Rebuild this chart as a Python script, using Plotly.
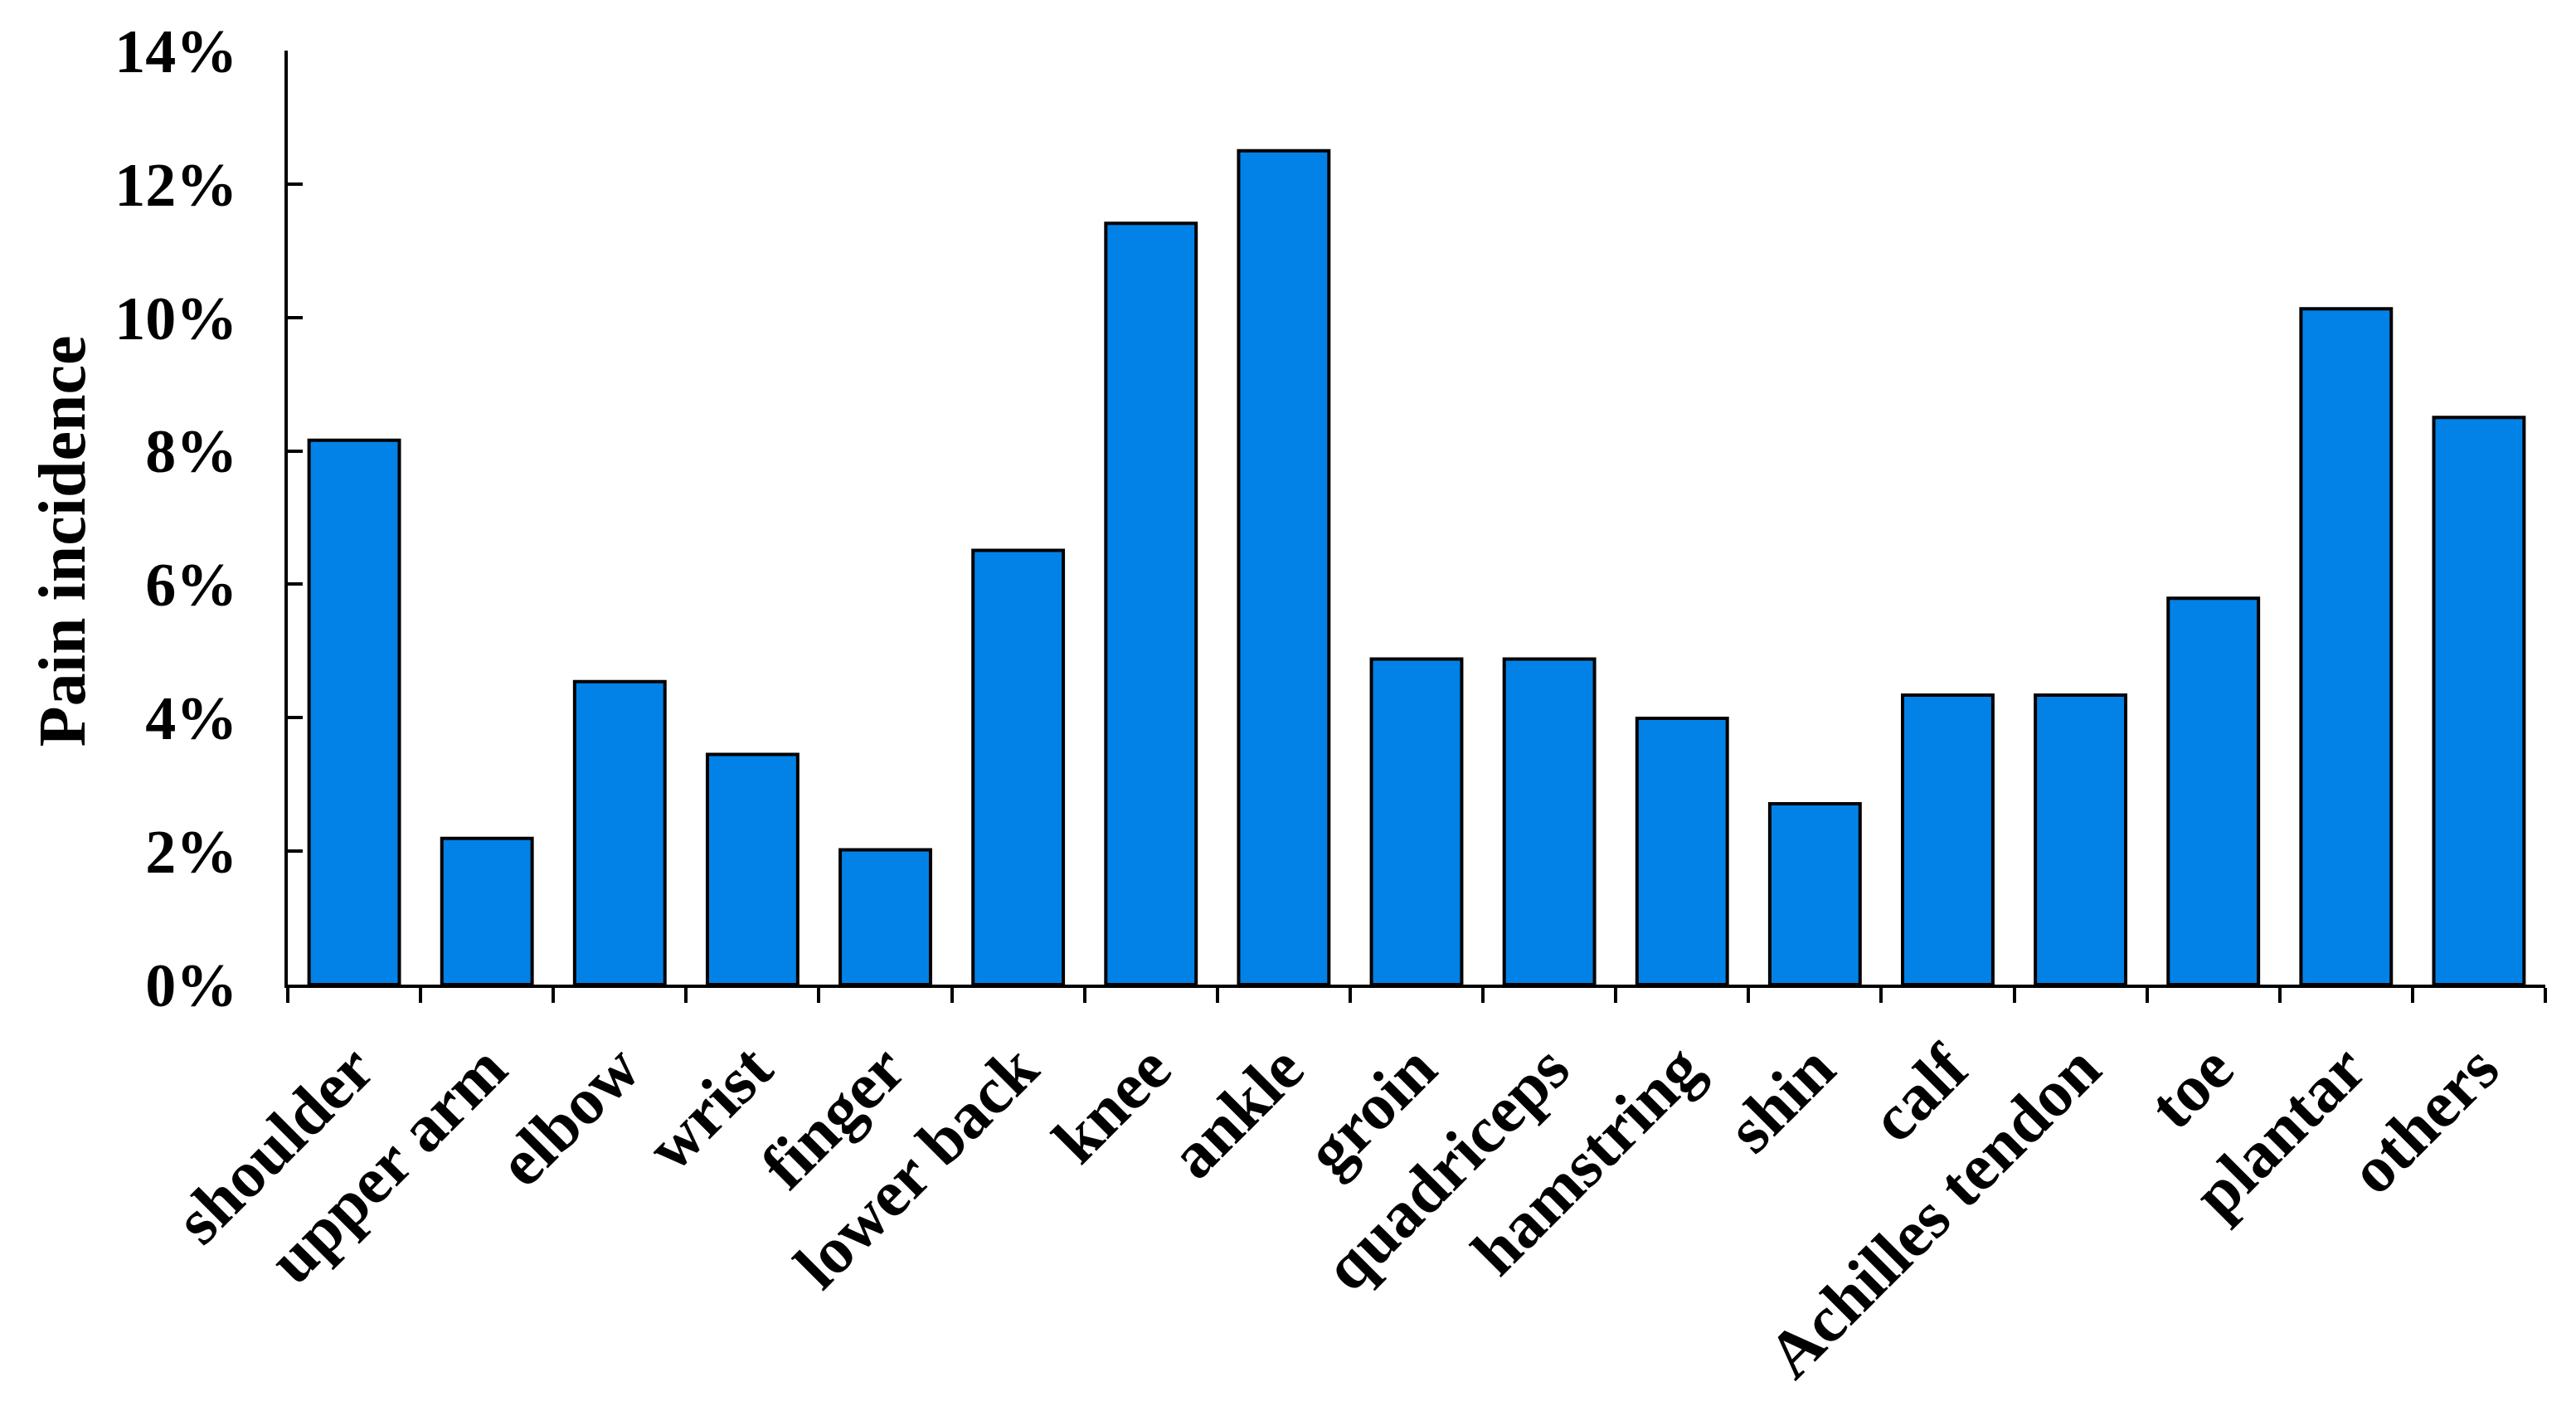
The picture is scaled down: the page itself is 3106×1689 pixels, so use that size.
import plotly.graph_objects as go

categories = ["shoulder", "upper arm", "elbow", "wrist", "finger", "lower back", "knee", "ankle",
              "groin", "quadriceps", "hamstring", "shin", "calf", "Achilles tendon", "toe",
              "plantar", "others"]
pain_incidence = [8.16, 2.19, 4.54, 3.45, 2.02, 6.51, 11.41, 12.50, 4.88, 4.88, 3.99, 2.71,
                  4.34, 4.34, 5.79, 10.13, 8.50]
y_ticks = [0, 2, 4, 6, 8, 10, 12, 14]
y_tick_labels = ["0%", "2%", "4%", "6%", "8%", "10%", "12%", "14%"]

fig = go.Figure(go.Bar(
    x=categories,
    y=pain_incidence,
    marker=dict(color="#0282E6", line=dict(color="black", width=4)),
    width=0.68,
))

serif = "Liberation Serif, Times New Roman, serif"

fig.update_layout(
    width=3098, height=1681,
    margin=dict(l=339, r=37, t=53, b=502, autoexpand=False),
    plot_bgcolor="white", paper_bgcolor="white",
    showlegend=False,
    font=dict(family=serif, color="black"),
    annotations=[dict(
        text="Pain incidence", xref="paper", yref="paper", x=0, y=0.475,
        xanchor="center", yanchor="middle", textangle=-90, xshift=-272,
        showarrow=False,
        font=dict(family=serif, size=80, color="black", weight="bold"),
    )],
)
fig.update_xaxes(
    type="category",
    tickson="boundaries",
    ticks="outside", ticklen=18, tickwidth=4, tickcolor="black",
    showline=True, linecolor="black", linewidth=4,
    tickangle=-45,
    tickfont=dict(family=serif, size=80, color="black", weight="bold"),
    ticklabelstandoff=18,
    showgrid=False, zeroline=False,
    range=[-0.5, 16.5],
)
fig.update_yaxes(
    range=[0, 14],
    tickvals=y_ticks, ticktext=y_tick_labels,
    ticks="inside", ticklen=18, tickwidth=4, tickcolor="black",
    showline=True, linecolor="black", linewidth=4,
    tickfont=dict(family=serif, size=74, color="black", weight="bold"),
    ticklabelstandoff=42,
    showgrid=False, zeroline=False,
)

fig.write_html("out.html")
